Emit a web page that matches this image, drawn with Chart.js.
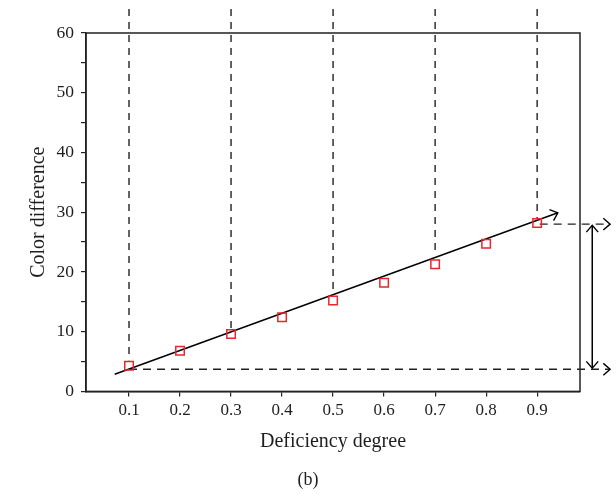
<!DOCTYPE html>
<html>
<head>
<meta charset="utf-8">
<script src="https://cdn.jsdelivr.net/npm/chart.js@4"></script>
<style>html,body{margin:0;padding:0;background:#fff;}canvas{display:block;}</style>
</head>
<body>
<canvas id="c" width="616" height="495"></canvas>
<script>
// ---- data ----
const degrees   = [0.1, 0.2, 0.3, 0.4, 0.5, 0.6, 0.7, 0.8, 0.9];
const colorDiff = [4.3, 6.8, 9.6, 12.4, 15.2, 18.2, 21.3, 24.7, 28.2];
const xTicks    = [0.1, 0.2, 0.3, 0.4, 0.5, 0.6, 0.7, 0.8, 0.9];
const yTicks    = [0, 5, 10, 15, 20, 25, 30, 35, 40, 45, 50, 55, 60];
// fitted trend line (start, arrow tip)
const fitX = [0.072, 0.9406];
const fitY = [2.86, 29.9];
// vertical dashed guides: x position, top, bottom
const guideX      = [0.1, 0.3, 0.5, 0.7, 0.9];
const guideTop    = [64, 64, 64, 64, 64];
const guideBottom = [5.2, 10.3, 16.5, 22.8, 29.0];
// horizontal dashed guides: y level, start x, arrow tip x
const levelY     = [3.7, 28.0];
const levelStart = [0.1, 0.905];
const levelEnd   = [1.043, 1.043];
// double-headed range arrow
const rangeX = 1.008;
const rangeY = [27.8, 3.9];

const FONT = "'Liberation Serif', 'Times New Roman', serif";
const INK = '#1e1e1e';

const datasets = [];
datasets.push({
  label: 'data', data: degrees.map((d, i) => ({x: d, y: colorDiff[i]})),
  showLine: false, pointStyle: 'rect', pointRadius: 6, pointBorderWidth: 1.5,
  pointBorderColor: '#e8262c', pointBackgroundColor: 'rgba(0,0,0,0)', order: 0
});
datasets.push({
  label: 'fit', data: fitX.map((x, i) => ({x, y: fitY[i]})),
  showLine: true, borderColor: '#000', borderWidth: 1.5, pointRadius: 0, clip: false,
  arrows: ['end'], order: 1
});
guideX.forEach((gx, i) => datasets.push({
  label: 'g' + i, data: [{x: gx, y: guideTop[i]}, {x: gx, y: guideBottom[i]}],
  showLine: true, borderColor: '#222', borderWidth: 1.4, borderDash: [7, 6], pointRadius: 0, clip: false, order: 2
}));
levelY.forEach((ly, i) => datasets.push({
  label: 'h' + i, data: [{x: levelStart[i], y: ly}, {x: levelEnd[i], y: ly}],
  showLine: true, borderColor: '#222', borderWidth: 1.4, borderDash: [8, 6], pointRadius: 0, clip: false,
  arrows: ['end'], order: 2
}));
datasets.push({
  label: 'range', data: rangeY.map(y => ({x: rangeX, y})),
  showLine: true, borderColor: '#000', borderWidth: 1.5, pointRadius: 0, clip: false,
  arrows: ['start', 'end'], order: 1
});

const arrowPlugin = {
  id: 'arrows',
  afterDatasetsDraw(chart) {
    const ctx = chart.ctx;
    chart.data.datasets.forEach((ds, i) => {
      if (!ds.arrows) return;
      const pts = chart.getDatasetMeta(i).data;
      const draw = (tip, from) => {
        const a = Math.atan2(tip.y - from.y, tip.x - from.x);
        const L = 9, s = 0.72;
        ctx.beginPath();
        ctx.moveTo(tip.x - L * Math.cos(a - s), tip.y - L * Math.sin(a - s));
        ctx.lineTo(tip.x, tip.y);
        ctx.lineTo(tip.x - L * Math.cos(a + s), tip.y - L * Math.sin(a + s));
        ctx.stroke();
      };
      ctx.save();
      ctx.setLineDash([]);
      ctx.strokeStyle = '#000';
      ctx.lineWidth = 1.4;
      if (ds.arrows.includes('end')) draw(pts[pts.length - 1], pts[pts.length - 2]);
      if (ds.arrows.includes('start')) draw(pts[0], pts[1]);
      ctx.restore();
    });
  }
};

const framePlugin = {
  id: 'frame',
  afterDatasetsDraw(chart) {
    const {ctx, chartArea: a} = chart;
    ctx.save();
    ctx.strokeStyle = '#222';
    ctx.lineWidth = 1.5;
    ctx.strokeRect(a.left, a.top, a.right - a.left, a.bottom - a.top);
    ctx.restore();
  }
};

const bgPlugin = {
  id: 'bg',
  beforeDraw(chart) {
    const ctx = chart.ctx;
    ctx.save(); ctx.fillStyle = '#fff'; ctx.fillRect(0, 0, chart.width, chart.height); ctx.restore();
  }
};

new Chart(document.getElementById('c'), {
  type: 'scatter',
  data: {datasets},
  plugins: [bgPlugin, arrowPlugin, framePlugin],
  options: {
    responsive: false, animation: false, events: [],
    layout: {padding: {top: 33, right: 0, left: 0, bottom: 0}},
    plugins: {
      legend: {display: false}, tooltip: {enabled: false},
      title: {display: true, position: 'bottom', text: '(b)', color: INK,
              font: {family: FONT, size: 18, weight: 'normal'}, padding: {top: 0, bottom: 4}}
    },
    scales: {
      x: {
        type: 'linear', min: 0.0157, max: 0.984,
        afterBuildTicks: s => { s.ticks = xTicks.map(v => ({value: v})); },
        afterFit: s => { s.height = 78; },
        ticks: {color: INK, font: {family: FONT, size: 17}, padding: 4,
                callback: v => v.toFixed(1)},
        grid: {drawOnChartArea: false, drawTicks: true, tickLength: 5, color: '#222', lineWidth: 1.2},
        border: {display: true, color: '#222', width: 1.5},
        title: {display: true, text: 'Deficiency degree', color: INK,
                font: {family: FONT, size: 20}, padding: {top: 4, bottom: 16}}
      },
      y: {
        type: 'linear', min: 0, max: 60,
        afterBuildTicks: s => { s.ticks = yTicks.map(v => ({value: v})); },
        afterFit: s => { s.width = 86; },
        ticks: {color: INK, font: {family: FONT, size: 17.5}, padding: 7,
                callback: v => (v % 10 === 0 ? String(v) : '')},
        grid: {drawOnChartArea: false, drawTicks: true, tickLength: 5, color: '#222', lineWidth: 1.2},
        border: {display: true, color: '#222', width: 1.5},
        title: {display: true, text: 'Color difference', color: INK,
                font: {family: FONT, size: 20}, padding: {top: 27, bottom: 0}}
      },
      yRightSpace: {
        type: 'linear', position: 'right', display: true, min: 0, max: 60,
        afterFit: s => { s.width = 36; },
        ticks: {display: false},
        grid: {display: false, drawTicks: false},
        border: {display: false}
      }
    }
  }
});
</script>
</body>
</html>
